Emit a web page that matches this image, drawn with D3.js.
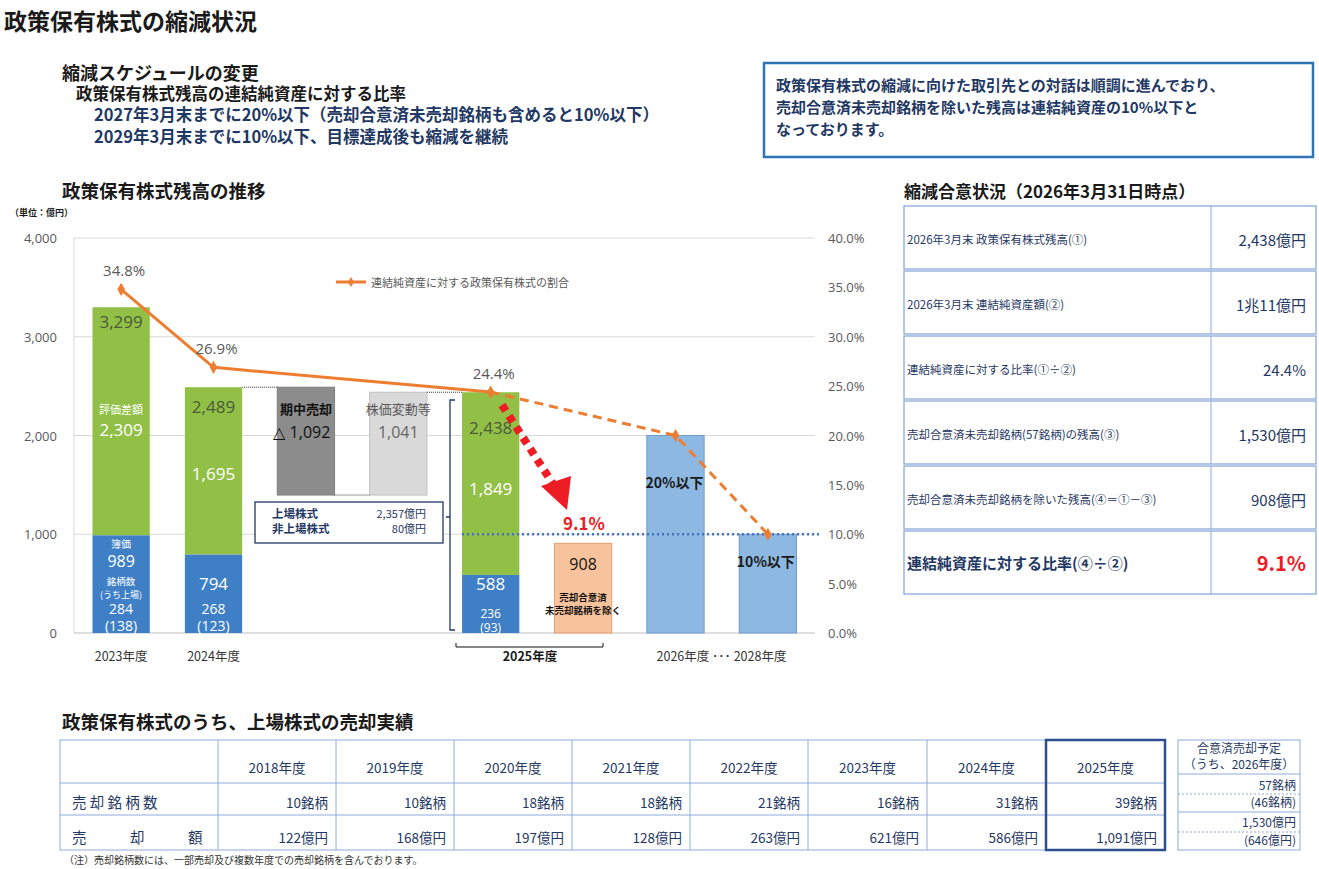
<!DOCTYPE html>
<html><head><meta charset="utf-8">
<script src="https://cdn.jsdelivr.net/npm/d3@7"></script>
<style>body{margin:0;background:#fff;font-family:"Noto Sans CJK JP","Noto Sans",sans-serif}</style>
</head><body><svg id="c" width="1319" height="869"></svg>
<script>
const slots=["2023","2024","sell","price","2025","excl","2026","2028"];
const bookVals=[989,794,null,null,588];
const evalVals=[2309,1695,null,null,1849];
const totals=[3299,2489,null,null,2438];
const counts=["284","268",null,null,"236"];
const listed=["(138)","(123)",null,null,"(93)"];
const waterfall=[{slot:"sell",lo:1397,hi:2489,lab:"期中売却",val:"△ 1,092"},{slot:"price",lo:1397,hi:2438,lab:"株価変動等",val:"1,041"}];
const exclVal=908;
const targetVals=[{slot:"2026",v:2000,lab:"20%以下"},{slot:"2028",v:1000,lab:"10%以下"}];
const ratioSlots=["2023","2024","2025","2026","2028"];
const ratioVals=[34.8,26.9,24.4,20,10];
const yTicks=[0,1000,2000,3000,4000];
const y2Ticks=[0,5,10,15,20,25,30,35,40];
const xLabels=[{slot:"2023",t:"2023年度"},{slot:"2024",t:"2024年度"},{slot:"2026",t:"2026年度 ･･･ 2028年度"}];
const yearsHdr=["2018年度","2019年度","2020年度","2021年度","2022年度","2023年度","2024年度","2025年度"];
const soldCounts=["10銘柄","10銘柄","18銘柄","18銘柄","21銘柄","16銘柄","31銘柄","39銘柄"];
const soldAmounts=["122億円","168億円","197億円","128億円","263億円","621億円","586億円","1,091億円"];
const agreeRows=[["2026年3月末 政策保有株式残高(①)","2,438億円"],["2026年3月末 連結純資産額(②)","1兆11億円"],["連結純資産に対する比率(①÷②)","24.4%"],["売却合意済未売却銘柄(57銘柄)の残高(③)","1,530億円"],["売却合意済未売却銘柄を除いた残高(④＝①－③)","908億円"],["連結純資産に対する比率(④÷②)","9.1%"]];

const svg=d3.select("#c");
const navy="#1f3864", txt="#1a1a1a";
function T(x,y,s,o={}){return svg.append("text").attr("x",x).attr("y",y).text(s).attr("font-size",o.fs||14).attr("font-weight",o.fw||"normal").attr("fill",o.c||txt).attr("text-anchor",o.a||"start").attr("font-family",o.ff||null);}
T(4,30,"政策保有株式の縮減状況",{fs:23,fw:"bold"});
T(62,80,"縮減スケジュールの変更",{fs:18,fw:"bold"});
T(76,100,"政策保有株式残高の連結純資産に対する比率",{fs:16.5,fw:"bold"});
T(94,121,"2027年3月末までに20%以下（売却合意済未売却銘柄も含めると10%以下）",{fs:16.5,fw:"bold",c:navy});
T(94,143,"2029年3月末までに10%以下、目標達成後も縮減を継続",{fs:16.5,fw:"bold",c:navy});
svg.append("rect").attr("x",764).attr("y",63).attr("width",549).attr("height",94).attr("fill","none").attr("stroke","#2e75b6").attr("stroke-width",2.5);
["政策保有株式の縮減に向けた取引先との対話は順調に進んでおり、","売却合意済未売却銘柄を除いた残高は連結純資産の10%以下と","なっております。"].forEach((s,i)=>T(776,91+i*22,s,{fs:15,fw:"bold",c:navy}));
T(62,198,"政策保有株式残高の推移",{fs:18.5,fw:"bold"});
T(10,216,"（単位：億円）",{fs:9,fw:"bold"});

const x=d3.scaleBand().domain(slots).range([74,815]).paddingInner(0.38).paddingOuter(0.2);
const y=d3.scaleLinear().domain([0,4000]).range([633,238]);
const y2=d3.scaleLinear().domain([0,40]).range([633,238]);
const gray="#595959";
svg.append("g").selectAll("line").data(yTicks.slice(1)).join("line").attr("x1",74).attr("x2",815).attr("y1",d=>y(d)).attr("y2",d=>y(d)).attr("stroke","#d9d9d9");
svg.append("line").attr("x1",74).attr("x2",74).attr("y1",238).attr("y2",633).attr("stroke","#d9d9d9");
svg.append("line").attr("x1",74).attr("x2",815).attr("y1",633).attr("y2",633).attr("stroke","#bfbfbf");
yTicks.forEach(d=>T(57,y(d)+5,d3.format(",")(d),{fs:13,c:gray,a:"end",ff:"Open Sans"}));
y2Ticks.forEach(d=>T(828,y2(d)+5,d.toFixed(1)+"%",{fs:13,c:gray,ff:"Open Sans"}));
const bw=x.bandwidth();
const topOff=[21,26,0,0,-11], evalY=[430,474,0,0,489], bookOff=[32,35,0,0,-5];
[0,1,4].forEach(i=>{const s=slots[i],x0=x(s);
 svg.append("rect").attr("x",x0).attr("y",y(totals[i])).attr("width",bw).attr("height",y(bookVals[i])-y(totals[i])).attr("fill","#92c047");
 svg.append("rect").attr("x",x0).attr("y",y(bookVals[i])).attr("width",bw).attr("height",y(0)-y(bookVals[i])).attr("fill","#3f7fc6");
 const cx=x0+bw/2;
 T(cx,i==4?434:y(totals[i])+topOff[i],d3.format(",")(totals[i]),{fs:17,c:"#4a5a3a",a:"middle",ff:"Open Sans"});
 T(cx,i==4?590:y(bookVals[i])+bookOff[i],d3.format(",")(bookVals[i]),{fs:i==0?16:17,c:"#fff",a:"middle",ff:"Open Sans"});
 T(cx,evalY[i]+6,d3.format(",")(evalVals[i]),{fs:17,c:"#fff",a:"middle",ff:"Open Sans"});
 T(cx,i==4?618:614,counts[i],{fs:i==4?12:14,c:"#fff",a:"middle",ff:"Open Sans"});
 T(cx,i==4?632:631,listed[i],{fs:i==4?12:14,c:"#fff",a:"middle",ff:"Open Sans"});
});
const c0=x("2023")+bw/2;
T(c0,414,"評価差額",{fs:11,c:"#fff",a:"middle"});
T(c0,548,"簿価",{fs:10,c:"#fff",a:"middle"});
T(c0,585,"銘柄数",{fs:9.5,c:"#fff",a:"middle"});
T(c0,598,"(うち上場)",{fs:9,c:"#fff",a:"middle"});
waterfall.forEach((w,i)=>{svg.append("rect").attr("x",x(w.slot)).attr("y",y(w.hi)).attr("width",bw).attr("height",y(w.lo)-y(w.hi)).attr("fill",i?"#d9d9d9":"#8c8c8c").attr("stroke",i?"#bfbfbf":"#7f7f7f");
 const cx=x(w.slot)+bw/2;
 T(cx,414,w.lab,{fs:13,c:i?"#595959":"#111",a:"middle",fw:i?"normal":"bold"});
 T(cx-(i?0:4),438,w.val,{fs:16,c:i?"#666":"#111",a:"middle",ff:"Open Sans"});});
svg.append("line").attr("x1",x("2024")+bw).attr("x2",x("sell")).attr("y1",y(2489)).attr("y2",y(2489)).attr("stroke","#333").attr("stroke-dasharray","1,1");
svg.append("line").attr("x1",x("sell")+bw).attr("x2",x("price")).attr("y1",y(1397)).attr("y2",y(1397)).attr("stroke","#333").attr("stroke-dasharray","1,1");
svg.append("line").attr("x1",x("price")+bw).attr("x2",x("2025")).attr("y1",y(2438)).attr("y2",y(2438)).attr("stroke","#333").attr("stroke-dasharray","1,1");
svg.append("rect").attr("x",255).attr("y",502).attr("width",188).attr("height",41).attr("fill","#fff").attr("stroke",navy).attr("stroke-width",1.3);
T(272,518,"上場株式",{fs:11.5,c:navy,fw:"bold"});T(272,533,"非上場株式",{fs:11.5,c:navy,fw:"bold"});
T(426,518,"2,357億円",{fs:11,c:navy,a:"end"});T(426,533,"80億円",{fs:11,c:navy,a:"end"});
svg.append("path").attr("d","M455,400 h-5 V630 h5 M450,517 h-4").attr("fill","none").attr("stroke",navy).attr("stroke-width",1.3);
const ex=x("excl");
svg.append("rect").attr("x",ex).attr("y",y(exclVal)).attr("width",bw).attr("height",y(0)-y(exclVal)).attr("fill","#f8c39c").attr("stroke","#e6a070");
T(ex+bw/2,570,"908",{fs:16,c:"#111",a:"middle",ff:"Open Sans"});
T(ex+bw/2,601,"売却合意済",{fs:9.5,c:"#111",a:"middle",fw:"bold"});
T(ex+bw/2,614,"未売却銘柄を除く",{fs:9.5,c:"#111",a:"middle",fw:"bold"});
targetVals.forEach(t=>{svg.append("rect").attr("x",x(t.slot)).attr("y",y(t.v)).attr("width",bw).attr("height",y(0)-y(t.v)).attr("fill","#8db8e2").attr("stroke","#6f9ccc");});
T(x("2026")+bw/2-1,488,"20%以下",{fs:14,fw:"bold",a:"middle"});
T(x("2028")+bw/2-2,567,"10%以下",{fs:14,fw:"bold",a:"middle"});
svg.append("line").attr("x1",x("2025")).attr("x2",820).attr("y1",y2(10)).attr("y2",y2(10)).attr("stroke","#4472c4").attr("stroke-width",2.5).attr("stroke-dasharray","2,3");
svg.append("path").attr("d","M456,643 v4 H603 v-4").attr("fill","none").attr("stroke","#111");
T(530,661,"2025年度",{fs:12.5,a:"middle",fw:"bold"});
xLabels.forEach(l=>{const cx=x(l.slot)+bw/2;T(l.slot=="2026"?x("2026")+bw/2+46:cx,661,l.t,{fs:12.5,c:"#333",a:"middle"});});
const pts=ratioSlots.map((s,i)=>[x(s)+bw/2,y2(ratioVals[i])]);
const ln=d3.line();
svg.append("path").attr("d",ln(pts.slice(0,3))).attr("fill","none").attr("stroke","#ed7d31").attr("stroke-width",3);
svg.append("path").attr("d",ln(pts.slice(2))).attr("fill","none").attr("stroke","#ed7d31").attr("stroke-width",3).attr("stroke-dasharray","9,6");
svg.selectAll(".mk").data(pts).join("path").attr("transform",d=>`translate(${d[0]},${d[1]})`).attr("d",d3.symbol(d3.symbolDiamond,50)).attr("fill","#ed7d31");
[[0,"34.8%"],[1,"26.9%"],[2,"24.4%"]].forEach(([i,s])=>T(pts[i][0]+3,pts[i][1]-13,s,{fs:15,c:gray,a:"middle",ff:"Open Sans"}));
svg.append("line").attr("x1",336).attr("x2",366).attr("y1",282).attr("y2",282).attr("stroke","#ed7d31").attr("stroke-width",3);
svg.append("path").attr("transform","translate(351,282)").attr("d",d3.symbol(d3.symbolDiamond,30)).attr("fill","#ed7d31");
T(371,287,"連結純資産に対する政策保有株式の割合",{fs:11,c:"#595959"});
svg.append("line").attr("x1",502).attr("y1",405).attr("x2",553).attr("y2",484).attr("stroke","#ee1c25").attr("stroke-width",8).attr("stroke-dasharray","7,6");
svg.append("path").attr("d","M541,486 L571,476 L567,510 Z").attr("fill","#ee1c25");
T(584,530,"9.1%",{fs:17,fw:"bold",c:"#ee1c25",a:"middle"});
T(904,198,"縮減合意状況（2026年3月31日時点）",{fs:17,fw:"bold"});
agreeRows.forEach((r,i)=>{const yy=206+i*65;
 svg.append("rect").attr("x",904).attr("y",yy).attr("width",412).attr("height",63).attr("fill","none").attr("stroke","#8eaadb").attr("stroke-width",1.3);
 svg.append("line").attr("x1",1211).attr("x2",1211).attr("y1",yy).attr("y2",yy+63).attr("stroke","#8eaadb");
 const last=i==5;
 T(907,yy+38,r[0],{fs:last?15:11.5,c:navy,fw:last?"bold":"normal"});
 T(1306,yy+40,r[1],{fs:last?20:15,c:last?"#ee1c25":navy,a:"end",fw:last?"bold":"normal"});});
T(62,729,"政策保有株式のうち、上場株式の売却実績",{fs:18.5,fw:"bold"});
const cx0=[60,218,336,454,572,690,808,927,1046,1165];
const lc="#8eaadb";
svg.append("rect").attr("x",60).attr("y",740).attr("width",1105).attr("height",110).attr("fill","none").attr("stroke",lc);
cx0.slice(1,-1).forEach(v=>svg.append("line").attr("x1",v).attr("x2",v).attr("y1",740).attr("y2",850).attr("stroke",lc));
[783,815].forEach(v=>svg.append("line").attr("x1",60).attr("x2",1165).attr("y1",v).attr("y2",v).attr("stroke",lc));
svg.append("rect").attr("x",1046).attr("y",740).attr("width",119).attr("height",110).attr("fill","none").attr("stroke","#2f4f8f").attr("stroke-width",2.5);
yearsHdr.forEach((s,i)=>T((cx0[i+1]+cx0[i+2])/2,773,s,{fs:13.5,c:navy,a:"middle"}));
soldCounts.forEach((s,i)=>T(cx0[i+2]-8,808,s,{fs:13.5,c:navy,a:"end"}));
soldAmounts.forEach((s,i)=>T(cx0[i+2]-8,843,s,{fs:13.5,c:navy,a:"end"}));
T(72,808,"売 却 銘 柄 数",{fs:14.5,c:navy});
T(72,843,"売　　　却　　　額",{fs:14.5,c:navy});
svg.append("rect").attr("x",1178).attr("y",740).attr("width",122).attr("height",110).attr("fill","none").attr("stroke",lc);
svg.append("line").attr("x1",1178).attr("x2",1300).attr("y1",774).attr("y2",774).attr("stroke",lc);
svg.append("line").attr("x1",1178).attr("x2",1300).attr("y1",812).attr("y2",812).attr("stroke",lc);
[794,832].forEach(v=>svg.append("line").attr("x1",1178).attr("x2",1300).attr("y1",v).attr("y2",v).attr("stroke",lc).attr("stroke-dasharray","2,2"));
T(1239,753,"合意済売却予定",{fs:12,c:navy,a:"middle"});
T(1239,769,"（うち、2026年度）",{fs:12,c:navy,a:"middle"});
T(1296,790,"57銘柄",{fs:12,c:navy,a:"end"});T(1296,807,"(46銘柄)",{fs:12,c:navy,a:"end"});
T(1296,827,"1,530億円",{fs:12,c:navy,a:"end"});T(1296,845,"(646億円)",{fs:12,c:navy,a:"end"});
T(64,864,"（注）売却銘柄数には、一部売却及び複数年度での売却銘柄を含んでおります。",{fs:10,c:"#333"});
</script></body></html>
